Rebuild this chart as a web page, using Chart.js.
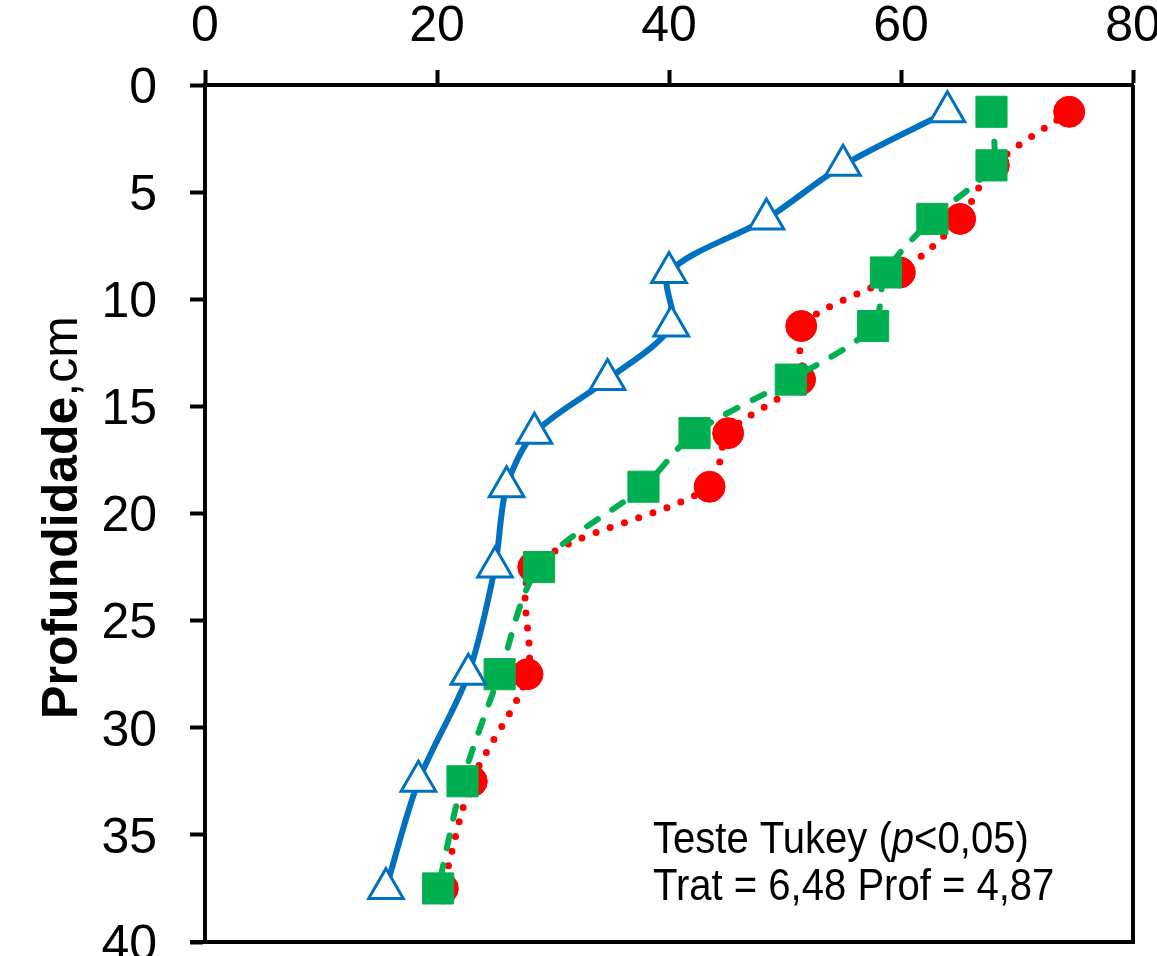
<!DOCTYPE html>
<html><head><meta charset="utf-8">
<script src="https://cdn.jsdelivr.net/npm/chart.js@4.4.0/dist/chart.umd.min.js"></script>
<style>html,body{margin:0;padding:0;background:#fff;overflow:hidden}#wrap{width:1157px;height:965px;position:relative}</style>
</head><body><div id="wrap"><canvas id="c"></canvas></div>
<script>
const depths = [1.25, 3.75, 6.25, 8.75, 11.25, 13.75, 16.25, 18.75, 22.5, 27.5, 32.5, 37.5];
const triangleSeries = [64.0, 55.0, 48.4, 40.0, 40.2, 34.7, 28.4, 26.0, 25.0, 22.7, 18.4, 15.6];
const squareSeries = [67.8, 67.8, 62.7, 58.7, 57.6, 50.5, 42.2, 37.8, 28.8, 25.4, 22.2, 20.1];
const circleSeries = [74.5, 68.0, 65.1, 59.9, 51.4, 51.3, 45.1, 43.5, 28.3, 27.8, 23.0, 20.5];
const xTicks = [0, 20, 40, 60, 80];
const yTicks = [0, 5, 10, 15, 20, 25, 30, 35, 40];
const yTitleBold = 'Profundidade';
const yTitleRegular = ',cm';
const noteLine1 = [['Teste Tukey (', false], ['p', true], ['<0,05)', false]];
const noteLine2 = 'Trat = 6,48 Prof = 4,87';

const FONT = "'Liberation Sans', Arial, sans-serif";
const toPts = arr => arr.map((v, i) => ({x: v, y: depths[i]}));

const extras = {
  id: 'extras',
  afterDraw(chart) {
    const ctx = chart.ctx, a = chart.chartArea;
    ctx.save();
    ctx.strokeStyle = '#000';
    ctx.lineWidth = 4;
    ctx.beginPath();
    ctx.moveTo(a.right, a.top); ctx.lineTo(a.right, a.bottom); ctx.lineTo(a.left - 15, a.bottom);
    ctx.stroke();
    // y title
    ctx.fillStyle = '#000';
    const cy = (a.top + a.bottom) / 2 + 4;
    ctx.translate(77, cy);
    ctx.rotate(-Math.PI / 2);
    ctx.textBaseline = 'alphabetic';
    ctx.textAlign = 'left';
    ctx.font = 'bold 50px ' + FONT;
    const w1 = ctx.measureText(yTitleBold).width;
    ctx.font = '50px ' + FONT;
    const w2 = ctx.measureText(yTitleRegular).width;
    let sx = -(w1 + w2) / 2;
    ctx.font = 'bold 50px ' + FONT;
    ctx.fillText(yTitleBold, sx, 0);
    ctx.font = '50px ' + FONT;
    ctx.fillText(yTitleRegular, sx + w1, 0);
    ctx.restore();
    // note
    ctx.save();
    ctx.fillStyle = '#000';
    ctx.textBaseline = 'alphabetic';
    ctx.textAlign = 'left';
    ctx.translate(653, 0);
    ctx.scale(0.91, 1);
    let x = 0;
    for (const [t, it] of noteLine1) {
      ctx.font = (it ? 'italic ' : '') + '44px ' + FONT;
      ctx.fillText(t, x, 853);
      x += ctx.measureText(t).width;
    }
    ctx.font = '44px ' + FONT;
    ctx.fillText(noteLine2, 0, 900);
    ctx.restore();
  }
};

new Chart(document.getElementById('c'), {
  type: 'scatter',
  data: {
    datasets: [
      {
        data: toPts(triangleSeries), showLine: true, tension: 0.3,
        borderColor: '#0070C0', borderWidth: 6,
        pointStyle: 'triangle', pointRadius: 20, pointHoverRadius: 20,
        pointBackgroundColor: '#FFFFFF', pointBorderColor: '#0070C0', pointBorderWidth: 3
      },
      {
        data: toPts(squareSeries), showLine: true, tension: 0.3,
        borderColor: '#00B050', borderWidth: 6, borderDash: [13, 17], borderCapStyle: 'round',
        pointStyle: 'rect', pointRadius: 22, pointHoverRadius: 22,
        pointBackgroundColor: '#00B050', pointBorderColor: '#00B050', pointBorderWidth: 1
      },
      {
        data: toPts(circleSeries), showLine: true, tension: 0.3,
        borderColor: '#FF0000', borderWidth: 7, borderDash: [0, 15], borderCapStyle: 'round',
        pointStyle: 'circle', pointRadius: 15.5, pointHoverRadius: 15.5,
        pointBackgroundColor: '#FF0000', pointBorderColor: '#FF0000', pointBorderWidth: 1
      }
    ]
  },
  options: {
    responsive: true, maintainAspectRatio: false, animation: false,
    layout: {padding: {left: 0, top: 0, right: 24, bottom: 0}},
    plugins: {legend: {display: false}, tooltip: {enabled: false}},
    events: [],
    scales: {
      x: {
        type: 'linear', position: 'top', min: 0, max: 80,
        afterBuildTicks: s => { s.ticks = xTicks.map(v => ({value: v})); },
        afterFit: s => { s.height = 85; s.paddingLeft = 0; s.paddingRight = 0; },
        ticks: {color: '#000', font: {size: 50, family: FONT}, padding: 13, maxRotation: 0},
        grid: {drawOnChartArea: false, drawTicks: true, tickLength: 15, tickWidth: 4, tickColor: '#000'},
        border: {display: true, color: '#000', width: 4}
      },
      y: {
        type: 'linear', position: 'left', reverse: true, min: 0, max: 40,
        afterBuildTicks: s => { s.ticks = yTicks.map(v => ({value: v})); },
        afterFit: s => { s.width = 205; s.paddingTop = 0; s.paddingBottom = 0; },
        ticks: {color: '#000', font: {size: 50, family: FONT}, padding: 33, labelOffset: 4},
        grid: {drawOnChartArea: false, drawTicks: true, tickLength: 15, tickWidth: 4, tickColor: '#000'},
        border: {display: true, color: '#000', width: 4}
      }
    }
  },
  plugins: [extras]
});
</script></body></html>
